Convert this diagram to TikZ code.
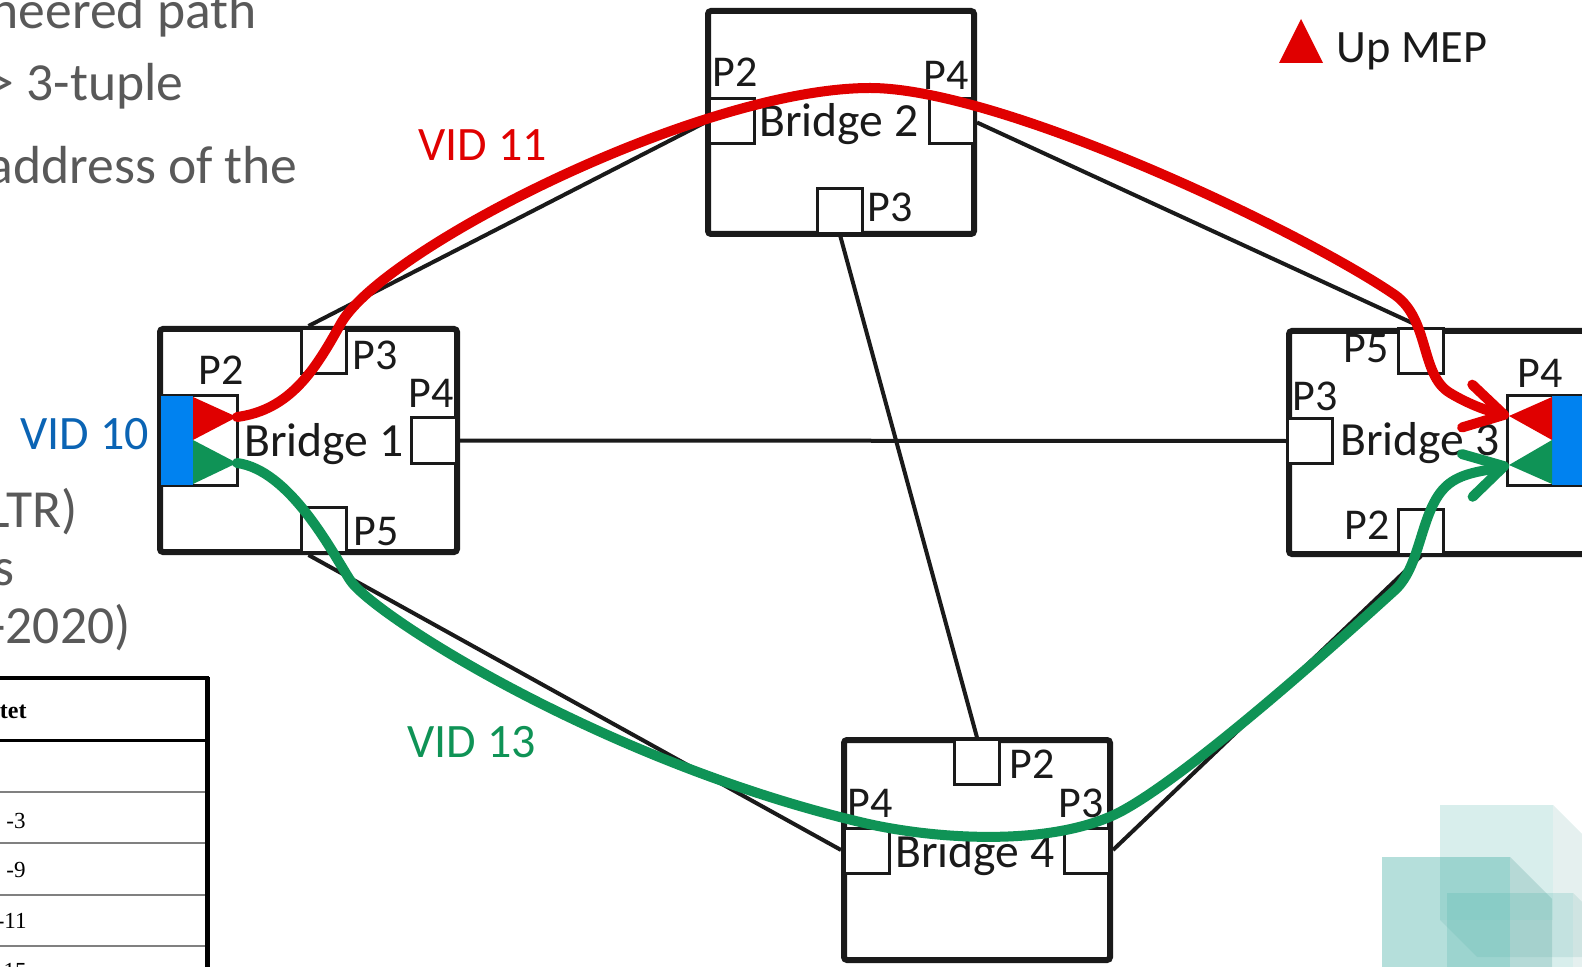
\documentclass[tikz,border=0pt]{standalone}
\usepackage{fontspec}
\setmainfont{Carlito}
\newfontfamily\tabfont{Liberation Serif}
\usepackage{tikz}
\usetikzlibrary{arrows.meta}
\definecolor{mepred}{HTML}{E00000}
\definecolor{mepgreen}{HTML}{0F9356}
\definecolor{mepblue}{HTML}{0082F0}
\definecolor{vidblue}{HTML}{0B64B4}
\definecolor{slidegray}{HTML}{595959}
\definecolor{linkblack}{HTML}{1A1A1A}
\definecolor{decoteal}{HTML}{3CAAA0}

\tikzset{
  bridge/.style={draw=linkblack, line width=3pt, rounded corners=1.5pt, fill=white, inner sep=0pt},
  port/.style={draw=linkblack, line width=1.5pt, fill=white, minimum width=22.5pt, minimum height=22.5pt, inner sep=0pt},
  plabel/.style={font=\fontsize{22}{26}\selectfont, text=linkblack, anchor=base, inner sep=0pt},
  blabel/.style={font=\fontsize{23.8}{28}\selectfont, text=linkblack, anchor=base west, inner sep=0pt},
  link/.style={draw=linkblack, line width=2pt},
  vid/.style={line width=5pt, line cap=round, -{Straight Barb[length=19pt,width=22pt,round]}},
  vidtext/.style={font=\fontsize{24}{28}\selectfont, anchor=base west, inner sep=0pt},
  slidetext/.style={font=\fontsize{26.8}{30}\selectfont, text=slidegray, anchor=base east, inner sep=0pt},
  cell/.style={font=\tabfont\fontsize{11.5}{13}\selectfont, anchor=base east, inner sep=0pt}
}

\begin{document}
\begin{tikzpicture}[x=0.5pt,y=-0.5pt]
  \useasboundingbox (0,0) rectangle (1582,967);

  % corner decoration
  \fill[decoteal!70!gray, fill opacity=0.15] (1553,805) -- (1592,844) -- (1592,957) -- (1477,957) -- (1440,920) -- (1553,920) -- cycle;
  \fill[decoteal, fill opacity=0.2] (1440,805) rectangle (1553,920);
  \fill[decoteal, fill opacity=0.38] (1382,857) rectangle (1510,975);
  \fill[decoteal!70!gray, fill opacity=0.25] (1510,857) -- (1552,899) -- (1552,975) -- (1510,975) -- cycle;
  \fill[decoteal, fill opacity=0.2] (1447,893) rectangle (1573,975);
  \fill[decoteal!70!gray, fill opacity=0.15] (1573,893) -- (1600,920) -- (1600,975) -- (1573,975) -- cycle;

  % slide text behind the picture
  \node[slidetext] (s1) at (257,29) {neered path};
  \node[slidetext] (s2) at (184,101) {> 3-tuple};
  \node[slidetext] (s3) at (298,184) {address of the};
  \node[slidetext] (s4) at (78,527) {LTR)};
  \node[slidetext] (s5) at (15,585) {s};
  \node[slidetext] (s6) at (131,643) {-2020)};

  % table
  \draw[line width=2pt] (0,678) -- (209,678);
  \draw[line width=2.5pt] (207,677) -- (207,970);
  \draw[line width=1.5pt] (0,740) -- (207,740);
  \foreach \y in {792,843,895,946} \draw[gray, line width=0.6pt] (0,\y) -- (205,\y);
  \node[cell, font=\tabfont\bfseries\fontsize{12}{14}\selectfont] (c0) at (27,718) {tet};
  \node[cell] (c2) at (26,828) {-3};
  \node[cell] (c3) at (26,877) {-9};
  \node[cell] (c4) at (27,928) {-11};
  \node[cell] (c5) at (27,978) {-15};

  % bridges
  \node[bridge, minimum width=148.5pt, minimum height=111.5pt] (b1) at (308.5,440.5) {};
  \node[bridge, minimum width=133pt, minimum height=111.5pt] (b2) at (841,122.5) {};
  \node[bridge, minimum width=148.5pt, minimum height=111.5pt] (b3) at (1437.5,442.5) {};
  \node[bridge, minimum width=133pt, minimum height=110pt] (b4) at (977,850) {};

  % ports
  \node[port] (b1p3) at (323.5,351.5) {};
  \node[port] (b1p4) at (433.5,440.5) {};
  \node[port] (b1p5) at (324,529.5) {};
  \node[port, minimum width=38pt, minimum height=45pt] (b1p2) at (199.5,440.5) {};
  \node[port] (b2p2) at (732,121.5) {};
  \node[port] (b2p4) at (952,121.5) {};
  \node[port] (b2p3) at (840,211) {};
  \node[port] (b3p5) at (1421,351) {};
  \node[port] (b3p3) at (1310,441) {};
  \node[port] (b3p2) at (1421,532) {};
  \node[port, minimum width=38pt, minimum height=45pt] (b3p4) at (1545.5,440.5) {};
  \node[port] (b4p2) at (977,761.5) {};
  \node[port] (b4p4) at (866.5,851) {};
  \node[port] (b4p3) at (1086.5,851) {};

  % links
  \draw[link] (b1p4.east) -- (b3p3.west);
  \draw[link] (b1.north) -- (b2.west);
  \draw[link] (b1.south) -- (b4.west);
  \draw[link] (b2.east) -- (b3p5.north);
  \draw[link] (b2p3.south) -- (b4p2.north);
  \draw[link] (b4.east) -- (b3p2.south);

  % up MEPs
  \coordinate (mep1r) at (237,417);
  \coordinate (mep1g) at (237,463);
  \coordinate (mep3r) at (1509,416);
  \coordinate (mep3g) at (1509,465);
  \fill[mepblue] (161,396) rectangle (193,485);
  \fill[mepred] (193,397) -- (mep1r) -- (193,440) -- cycle;
  \fill[mepgreen] (193,440) -- (mep1g) -- (193,484) -- cycle;
  \fill[mepblue] (1552,396) rectangle (1590,485);
  \fill[mepred] (1552,397) -- (mep3r) -- (1552,440) -- cycle;
  \fill[mepgreen] (1552,440) -- (mep3g) -- (1552,484) -- cycle;

  % labels
  \node[plabel] (l1p2) at (221,385) {P2};
  \node[plabel] (l1p3) at (375,370) {P3};
  \node[plabel] (l1p4) at (431,408) {P4};
  \node[plabel] (l1p5) at (376,545) {P5};
  \node[plabel] (l2p2) at (735,87) {P2};
  \node[plabel] (l2p4) at (946,90) {P4};
  \node[plabel] (l2p3) at (890,222) {P3};
  \node[plabel] (l3p5) at (1366,363) {P5};
  \node[plabel] (l3p3) at (1315,410) {P3};
  \node[plabel] (l3p4) at (1540,387) {P4};
  \node[plabel] (l3p2) at (1367,539) {P2};
  \node[plabel] (l4p2) at (1032,778) {P2};
  \node[plabel] (l4p4) at (870,817) {P4};
  \node[plabel] (l4p3) at (1081,817) {P3};
  \node[blabel] (b1t) at (244,456) {Bridge 1};
  \node[blabel] (b2t) at (759,137) {Bridge 2};
  \node[blabel] (b3t) at (1340,455) {Bridge 3};
  \node[blabel] (b4t) at (895,867) {Bridge 4};

  \node[vidtext, vidblue] (vid10) at (20,450) {VID 10};
  \node[vidtext, mepred] (vid11) at (418,161) {VID 11};
  \node[vidtext, mepgreen] (vid13) at (407,757) {VID 13};

  % legend
  \fill[mepred] (1301,19) -- (1323,63) -- (1279,63) -- cycle;
  \node[vidtext, font=\fontsize{23.2}{27}\selectfont, text=linkblack] (upmep) at (1336,63) {Up MEP};

  % VID paths
  \draw[vid, mepred] (mep1r) .. controls (290,410) and (315,370) .. (340,325)
    .. controls (380,250) and (700,88) .. (870,88)
    .. controls (1000,88) and (1300,230) .. (1395,295)
    .. controls (1430,320) and (1420,375) .. (1450,393)
    .. controls (1470,405) and (1488,411) .. (mep3r);
  \draw[vid, mepgreen] (mep1g) .. controls (290,470) and (332,552) .. (350,580)
    .. controls (372,614) and (600,760) .. (860,822)
    .. controls (930,839) and (1050,848) .. (1120,812)
    .. controls (1190,775) and (1340,640) .. (1395,590)
    .. controls (1423,564) and (1420,505) .. (1450,483)
    .. controls (1465,472) and (1485,471) .. (mep3g);
\end{tikzpicture}
\end{document}
